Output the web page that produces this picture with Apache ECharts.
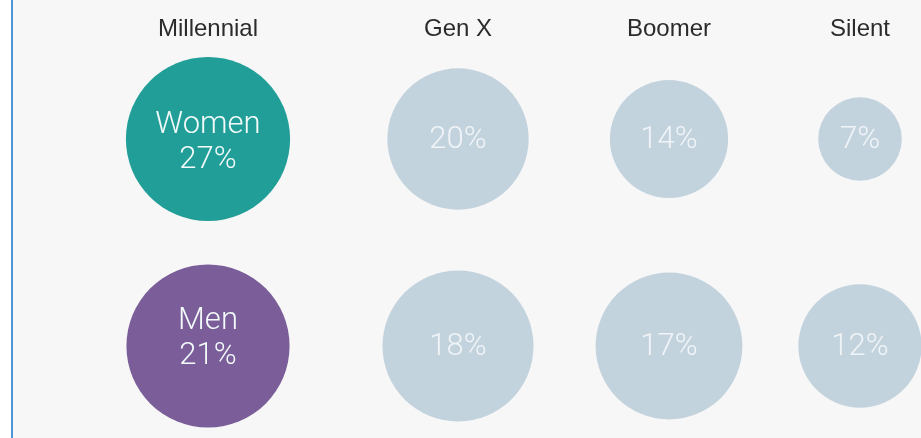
<!DOCTYPE html>
<html lang="en">
<head>
    <meta charset="UTF-8">
    <title>Generations</title>
    <style>
        body {
            margin: 0;
            padding: 0;
            background-color: #f7f7f7;
        }
        #main {
            width: 921px;
            height: 438px;
        }
    </style>
    <script src="https://cdn.jsdelivr.net/npm/echarts@6/dist/echarts.min.js"></script>
</head>
<body>
<div id="main"></div>
<script>
	var generations = ['Millennial', 'Gen X', 'Boomer', 'Silent'];
	var genders = ['Men', 'Women'];
	var women = [27, 20, 14, 7];
	var men = [21, 18, 17, 12];

	var chart = echarts.init(document.getElementById('main'));

	// column centres (layout only)
	var colCenters = [208, 458, 669, 860];
	var colWidth = 120;

	var grids = [], xAxes = [], yAxes = [], series = [];
	for (var i = 0; i < generations.length; i++) {
		grids.push({
			left: colCenters[i] - colWidth / 2,
			width: colWidth,
			top: 139,
			height: 207
		});
		xAxes.push({
			type: 'category',
			gridIndex: i,
			position: 'top',
			data: [generations[i]],
			axisLine: {show: false},
			axisTick: {show: false},
			splitLine: {show: false},
			axisLabel: {
				margin: 98,
				color: '#2b2b2b',
				fontSize: 24,
				fontFamily: 'Liberation Sans'
			}
		});
		yAxes.push({
			type: 'category',
			gridIndex: i,
			data: genders,
			boundaryGap: false,
			show: false
		});
		var highlight = i === 0;
		series.push({
			type: 'scatter',
			xAxisIndex: i,
			yAxisIndex: i,
			data: [
				{value: [generations[i], 'Women', women[i]],
					itemStyle: {color: highlight ? '#229e98' : '#c3d3de'},
					label: {offset: [0, highlight ? 4 : 1]}},
				{value: [generations[i], 'Men', men[i]],
					itemStyle: {color: highlight ? '#7a5d99' : '#c3d3de'},
					label: {offset: [0, highlight ? -7 : 1]}}
			],
			itemStyle: {opacity: 1},
			symbolSize: function (val) {
				var k = val[1] === 'Women' ? 31.6 : 35.6;
				return k * Math.sqrt(val[2]);
			},
			label: {
				show: true,
				position: 'inside',
				fontFamily: 'Roboto',
				fontWeight: 300,
				fontSize: 31,
				lineHeight: 35,
				color: highlight ? '#f2fafa' : 'rgba(255,255,255,0.75)',
				formatter: function (p) {
					var txt = p.value[2] + '%';
					return p.seriesIndex === 0 ? p.value[1] + '\n' + txt : txt;
				}
			},
			emphasis: {disabled: true},
			animation: false
		});
	}

	chart.setOption({
		backgroundColor: '#f7f7f7',
		grid: grids,
		xAxis: xAxes,
		yAxis: yAxes,
		series: series,
		graphic: [
			{type: 'rect', left: 0, top: 0, shape: {width: 11, height: 438}, style: {fill: '#ffffff'}},
			{type: 'rect', left: 11, top: 0, shape: {width: 2, height: 438}, style: {fill: '#5096d8'}}
		]
	});
</script>
</body>
</html>
